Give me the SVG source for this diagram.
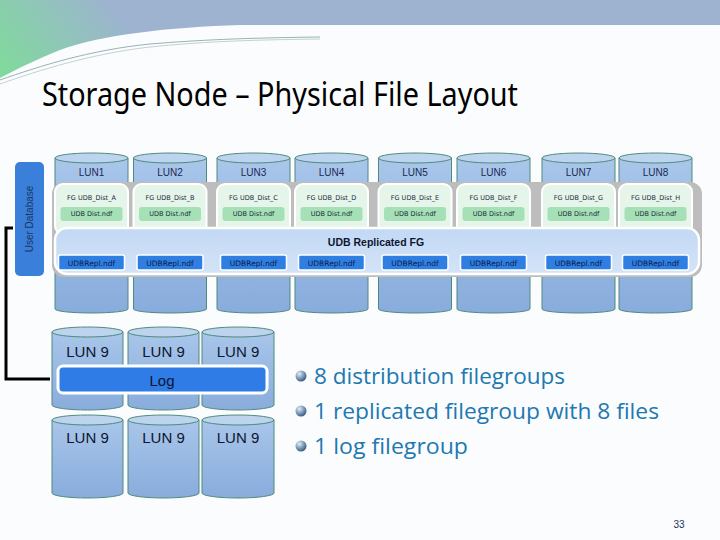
<svg xmlns="http://www.w3.org/2000/svg" width="720" height="540" viewBox="0 0 720 540">
<defs>
<linearGradient id="hdr" gradientUnits="userSpaceOnUse" x1="0" y1="80" x2="110" y2="0">
<stop offset="0" stop-color="#7fdc9a"/><stop offset="1" stop-color="#9db3d0"/>
</linearGradient>
<linearGradient id="cyl" x1="0" y1="0" x2="0" y2="1">
<stop offset="0" stop-color="#a9c6ea"/><stop offset="1" stop-color="#88acdc"/>
</linearGradient>
<linearGradient id="rep" x1="0" y1="0" x2="0" y2="1">
<stop offset="0" stop-color="#c2d8f4"/><stop offset="1" stop-color="#d4e4f8"/>
</linearGradient>
<radialGradient id="ball" cx="0.35" cy="0.3" r="0.7">
<stop offset="0" stop-color="#e4eef6"/><stop offset="0.5" stop-color="#8aa6c4"/><stop offset="1" stop-color="#3d5f84"/>
</radialGradient>
<style>
.body{fill:url(#cyl);stroke:#4f8a7f;stroke-width:1}
.top{fill:#bcd4ee;stroke:#4f8a7f;stroke-width:1}
.lun{font-family:"Liberation Sans",Arial,sans-serif;font-size:10px;fill:#1a2a55;text-anchor:middle}
.lun9{font-family:"Liberation Sans",Arial,sans-serif;font-size:15px;fill:#0d1530;text-anchor:middle}
.fgp{fill:#e6f5ea;stroke:#ffffff;stroke-width:2}
.fgb{fill:#a6e0b6}
.fgt{font-family:"DejaVu Sans",sans-serif;font-size:6.5px;fill:#1a2a40;text-anchor:middle}
.rb{fill:#2f7fe3;stroke:#ffffff;stroke-width:1.5}
.rt{font-family:"DejaVu Sans",sans-serif;font-size:7.5px;fill:#0a1a48;text-anchor:middle}
.bt{font-family:"Open Sans","Noto Sans",sans-serif;font-size:21px;fill:#2178b0}
</style>
</defs>
<rect width="720" height="540" fill="#fbfcfd"/>
<path d="M0,0 H720 V25 H240 C170,27 100,35 60,50 C35,60 15,70 0,78 Z" fill="url(#hdr)"/>
<path d="M0,80 C40,66 90,50 150,44 C200,40 240,38 320,37" fill="none" stroke="#7e9ea4" stroke-width="0.8"/>
<path d="M0,84 C40,70 90,54 150,47 C200,42 240,40 320,39" fill="none" stroke="#9ab4b4" stroke-width="0.6"/>

<text x="42" y="106" font-family="Noto Sans,Liberation Sans,sans-serif" font-size="32" fill="#000" textLength="476" lengthAdjust="spacingAndGlyphs">Storage Node – Physical File Layout</text>

<g id="connectors">
<path d="M13,228 H6 V379 H50" fill="none" stroke="#000" stroke-width="3"/>
</g>

<g id="user-database">
<rect x="15" y="162" width="29" height="114" rx="5" fill="#3a80da"/>
<text transform="translate(33,219) rotate(-90)" font-family="Liberation Sans,Arial,sans-serif" font-size="10" fill="#1a3566" text-anchor="middle">User Database</text>
</g>

<g id="top-luns">
<g id="lun1"><path class="body" d="M55,158 V309 A36.5,4 0 0 0 128,309 V158 Z"/><ellipse class="top" cx="91.5" cy="158" rx="36.5" ry="5"/><text class="lun" x="91.5" y="176">LUN1</text></g>
<g id="lun2"><path class="body" d="M133.5,158 V309 A36.5,4 0 0 0 206.5,309 V158 Z"/><ellipse class="top" cx="170" cy="158" rx="36.5" ry="5"/><text class="lun" x="170" y="176">LUN2</text></g>
<g id="lun3"><path class="body" d="M217,158 V309 A36.5,4 0 0 0 290,309 V158 Z"/><ellipse class="top" cx="253.5" cy="158" rx="36.5" ry="5"/><text class="lun" x="253.5" y="176">LUN3</text></g>
<g id="lun4"><path class="body" d="M295,158 V309 A36.5,4 0 0 0 368,309 V158 Z"/><ellipse class="top" cx="331.5" cy="158" rx="36.5" ry="5"/><text class="lun" x="331.5" y="176">LUN4</text></g>
<g id="lun5"><path class="body" d="M378.5,158 V309 A36.5,4 0 0 0 451.5,309 V158 Z"/><ellipse class="top" cx="415" cy="158" rx="36.5" ry="5"/><text class="lun" x="415" y="176">LUN5</text></g>
<g id="lun6"><path class="body" d="M457,158 V309 A36.5,4 0 0 0 530,309 V158 Z"/><ellipse class="top" cx="493.5" cy="158" rx="36.5" ry="5"/><text class="lun" x="493.5" y="176">LUN6</text></g>
<g id="lun7"><path class="body" d="M542,158 V309 A36.5,4 0 0 0 615,309 V158 Z"/><ellipse class="top" cx="578.5" cy="158" rx="36.5" ry="5"/><text class="lun" x="578.5" y="176">LUN7</text></g>
<g id="lun8"><path class="body" d="M619,158 V309 A36.5,4 0 0 0 692,309 V158 Z"/><ellipse class="top" cx="655.5" cy="158" rx="36.5" ry="5"/><text class="lun" x="655.5" y="176">LUN8</text></g>
</g>

<g id="filegroup-frame">
<rect x="52" y="182" width="650" height="95" rx="12" fill="#bdbdbd"/>
</g>

<g id="fg-a"><rect class="fgp" x="55" y="184" width="73" height="50" rx="8"/><text class="fgt" x="91.5" y="200">FG UDB_Dist_A</text><rect class="fgb" x="60.5" y="207" width="62" height="14" rx="3"/><text class="fgt" x="91.5" y="216">UDB Dist.ndf</text></g>
<g id="fg-b"><rect class="fgp" x="133.5" y="184" width="73" height="50" rx="8"/><text class="fgt" x="170" y="200">FG UDB_Dist_B</text><rect class="fgb" x="139" y="207" width="62" height="14" rx="3"/><text class="fgt" x="170" y="216">UDB Dist.ndf</text></g>
<g id="fg-c"><rect class="fgp" x="217" y="184" width="73" height="50" rx="8"/><text class="fgt" x="253.5" y="200">FG UDB_Dist_C</text><rect class="fgb" x="222.5" y="207" width="62" height="14" rx="3"/><text class="fgt" x="253.5" y="216">UDB Dist.ndf</text></g>
<g id="fg-d"><rect class="fgp" x="295" y="184" width="73" height="50" rx="8"/><text class="fgt" x="331.5" y="200">FG UDB_Dist_D</text><rect class="fgb" x="300.5" y="207" width="62" height="14" rx="3"/><text class="fgt" x="331.5" y="216">UDB Dist.ndf</text></g>
<g id="fg-e"><rect class="fgp" x="378.5" y="184" width="73" height="50" rx="8"/><text class="fgt" x="415" y="200">FG UDB_Dist_E</text><rect class="fgb" x="384" y="207" width="62" height="14" rx="3"/><text class="fgt" x="415" y="216">UDB Dist.ndf</text></g>
<g id="fg-f"><rect class="fgp" x="457" y="184" width="73" height="50" rx="8"/><text class="fgt" x="493.5" y="200">FG UDB_Dist_F</text><rect class="fgb" x="462.5" y="207" width="62" height="14" rx="3"/><text class="fgt" x="493.5" y="216">UDB Dist.ndf</text></g>
<g id="fg-g"><rect class="fgp" x="542" y="184" width="73" height="50" rx="8"/><text class="fgt" x="578.5" y="200">FG UDB_Dist_G</text><rect class="fgb" x="547.5" y="207" width="62" height="14" rx="3"/><text class="fgt" x="578.5" y="216">UDB Dist.ndf</text></g>
<g id="fg-h"><rect class="fgp" x="619" y="184" width="73" height="50" rx="8"/><text class="fgt" x="655.5" y="200">FG UDB_Dist_H</text><rect class="fgb" x="624.5" y="207" width="62" height="14" rx="3"/><text class="fgt" x="655.5" y="216">UDB Dist.ndf</text></g>

<g id="replicated-fg">
<rect x="55" y="228" width="644" height="46" rx="12" fill="url(#rep)" stroke="#ffffff" stroke-width="2.5"/>
<text x="376" y="246" font-family="Liberation Sans,Arial,sans-serif" font-size="10.5" font-weight="bold" fill="#0d1530" text-anchor="middle">UDB Replicated FG</text>
<rect class="rb" x="58.5" y="255" width="66" height="15" rx="2"/><text class="rt" x="91.5" y="265.5">UDBRepl.ndf</text>
<rect class="rb" x="137" y="255" width="66" height="15" rx="2"/><text class="rt" x="170" y="265.5">UDBRepl.ndf</text>
<rect class="rb" x="220.5" y="255" width="66" height="15" rx="2"/><text class="rt" x="253.5" y="265.5">UDBRepl.ndf</text>
<rect class="rb" x="298.5" y="255" width="66" height="15" rx="2"/><text class="rt" x="331.5" y="265.5">UDBRepl.ndf</text>
<rect class="rb" x="382" y="255" width="66" height="15" rx="2"/><text class="rt" x="415" y="265.5">UDBRepl.ndf</text>
<rect class="rb" x="460.5" y="255" width="66" height="15" rx="2"/><text class="rt" x="493.5" y="265.5">UDBRepl.ndf</text>
<rect class="rb" x="545.5" y="255" width="66" height="15" rx="2"/><text class="rt" x="578.5" y="265.5">UDBRepl.ndf</text>
<rect class="rb" x="622.5" y="255" width="66" height="15" rx="2"/><text class="rt" x="655.5" y="265.5">UDBRepl.ndf</text>
</g>

<g id="log-luns">
<g id="lun9-r1c1"><path class="body" d="M52,332 V405 A35.5,5 0 0 0 123,405 V332 Z"/><ellipse class="top" cx="87.5" cy="332" rx="35.5" ry="5"/><text class="lun9" x="87.5" y="357">LUN 9</text></g>
<g id="lun9-r1c2"><path class="body" d="M128,332 V405 A35.5,5 0 0 0 199,405 V332 Z"/><ellipse class="top" cx="163.5" cy="332" rx="35.5" ry="5"/><text class="lun9" x="163.5" y="357">LUN 9</text></g>
<g id="lun9-r1c3"><path class="body" d="M202,332 V405 A36,5 0 0 0 274,405 V332 Z"/><ellipse class="top" cx="238" cy="332" rx="36" ry="5"/><text class="lun9" x="238" y="357">LUN 9</text></g>
<g id="lun9-r2c1"><path class="body" d="M52,420 V493 A35.5,5 0 0 0 123,493 V420 Z"/><ellipse class="top" cx="87.5" cy="420" rx="35.5" ry="5"/><text class="lun9" x="87.5" y="443">LUN 9</text></g>
<g id="lun9-r2c2"><path class="body" d="M128,420 V493 A35.5,5 0 0 0 199,493 V420 Z"/><ellipse class="top" cx="163.5" cy="420" rx="35.5" ry="5"/><text class="lun9" x="163.5" y="443">LUN 9</text></g>
<g id="lun9-r2c3"><path class="body" d="M202,420 V493 A36,5 0 0 0 274,493 V420 Z"/><ellipse class="top" cx="238" cy="420" rx="36" ry="5"/><text class="lun9" x="238" y="443">LUN 9</text></g>
</g>

<g id="log">
<rect x="58" y="366" width="209" height="27" rx="5" fill="#2f7ce6" stroke="#ffffff" stroke-width="3"/>
<text x="162" y="386" font-family="Liberation Sans,Arial,sans-serif" font-size="15" fill="#0d1530" text-anchor="middle">Log</text>
</g>

<g id="bullets">
<circle cx="301" cy="376" r="5.5" fill="url(#ball)"/>
<text class="bt" x="314" y="384" textLength="251" lengthAdjust="spacingAndGlyphs">8 distribution filegroups</text>
<circle cx="301" cy="411" r="5.5" fill="url(#ball)"/>
<text class="bt" x="314" y="419" textLength="345" lengthAdjust="spacingAndGlyphs">1 replicated filegroup with 8 files</text>
<circle cx="301" cy="446" r="5.5" fill="url(#ball)"/>
<text class="bt" x="314" y="454" textLength="154" lengthAdjust="spacingAndGlyphs">1 log filegroup</text>
</g>

<text x="679" y="528" font-family="Liberation Sans,Arial,sans-serif" font-size="10" fill="#1a3260" text-anchor="middle">33</text>
</svg>
